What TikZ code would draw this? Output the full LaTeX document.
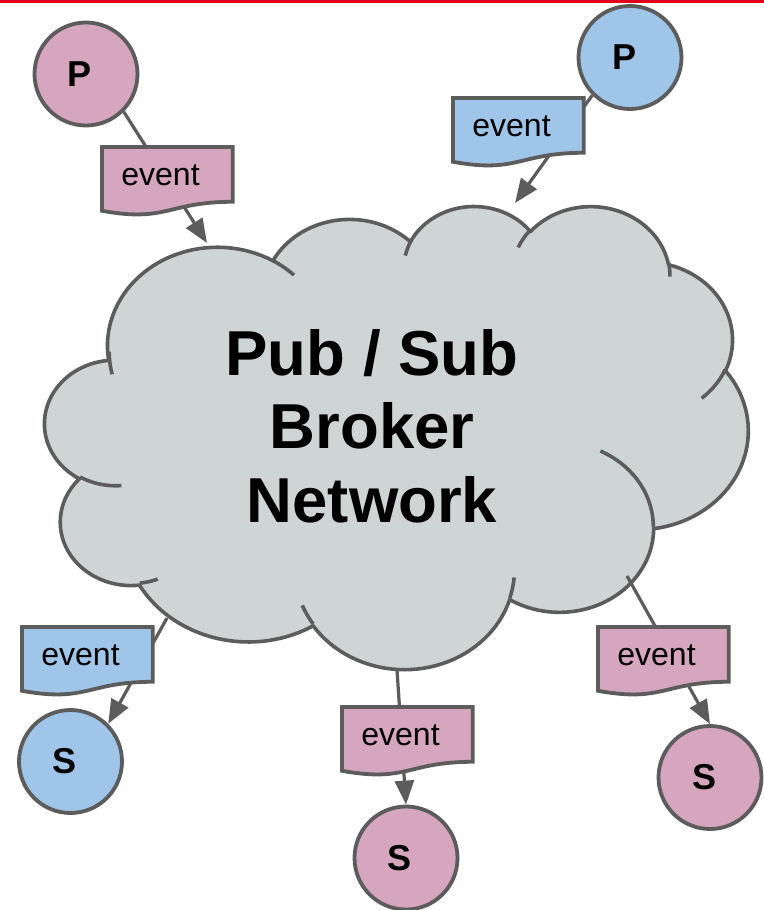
\documentclass[tikz,border=0pt]{standalone}
\usepackage{fontspec}
\setmainfont{Liberation Sans}
\usetikzlibrary{arrows.meta,calc}
\definecolor{pinkfill}{HTML}{D5A6BD}
\definecolor{bluefill}{HTML}{9FC5E8}
\definecolor{cloudfill}{RGB}{207,212,212}
\definecolor{linegray}{RGB}{92,92,92}
\definecolor{topred}{RGB}{226,0,26}
\pgfdeclarelayer{cloudlayer}
\pgfdeclarelayer{linelayer}
\pgfdeclarelayer{boxlayer}
\pgfsetlayers{cloudlayer,linelayer,boxlayer,main}

% elliptical arc in the manner of DrawingML arcTo; #1 macro to store, #2 wR, #3 hR, #4 start (deg), #5 sweep (deg)
\newcommand\cldarc[5]{%
  \pgfmathsetmacro\cldta{atan2((#2)*sin(#4),(#3)*cos(#4))}%
  \pgfmathsetmacro\cldtb{atan2((#2)*sin((#4)+(#5)),(#3)*cos((#4)+(#5)))}%
  \pgfmathsetmacro\cldtb{ifthenelse(\cldtb<\cldta,\cldtb+360,\cldtb)}%
  \pgfmathsetmacro\cldox{\cldx-(#2)*cos(\cldta)}%
  \pgfmathsetmacro\cldoy{\cldy-(#3)*sin(\cldta)}%
  \pgfmathsetmacro\cldx{\cldox+(#2)*cos(\cldtb)}%
  \pgfmathsetmacro\cldy{\cldoy+(#3)*sin(\cldtb)}%
  \xdef#1{plot[domain=\cldta:\cldtb,samples=40] ({\cldox+(#2)*cos(\unexpanded{\x})},{\cldoy+(#3)*sin(\unexpanded{\x})})}%
}
\newcommand\cldstroke[1]{\edef\cldcmd{\noexpand\draw[cloudline] \unexpanded\expandafter{#1};}\cldcmd}
\newcommand\evshape[2]{%
  \path[evline, fill=#2] (#1.north west) -- (#1.north east)
    -- ($(#1.north east)!0.802!(#1.south east)$)
    .. controls ($(#1.north)!0.802!(#1.south)$) and ($(#1.north)!1.1075!(#1.south)$)
    .. ($(#1.north west)!0.934!(#1.south west)$) -- cycle;}

\tikzset{
  party/.style={circle, draw=linegray, line width=1.9pt, minimum size=51.5pt, inner sep=0pt,
    font=\fontsize{18}{21}\selectfont\bfseries},
  evbox/.style={anchor=north west, rectangle, inner xsep=9.5pt, inner ysep=0pt, text width=46pt,
    text height=19pt, text depth=14.75pt, align=left, font=\fontsize{16}{19}\selectfont},
  evline/.style={draw=linegray, line width=1.9pt, line join=miter},
  arr/.style={draw=linegray, line width=1.6pt, -{Triangle[length=12pt,width=9.5pt]}},
  cloudline/.style={draw=linegray, line width=1.8pt, line cap=butt},
  cloudbody/.style={fill=cloudfill, draw=linegray, line width=1.8pt, line join=round},
  titletext/.style={inner sep=0pt, anchor=base, font=\fontsize{31.75}{36.75}\selectfont\bfseries},
}

\begin{document}
\begin{tikzpicture}[x=0.5pt, y=-0.5pt]
\useasboundingbox (0,0) rectangle (764,910);

% publishers and subscribers
\node[party, fill=pinkfill] (p1) at (86,74) {P\hspace*{6pt}};
\node[party, fill=bluefill] (p2) at (630,57.5) {P\hspace*{6pt}};
\node[party, fill=bluefill] (s1) at (70.5,761.5) {S\hspace*{6pt}};
\node[party, fill=pinkfill] (s2) at (406,858) {S\hspace*{6pt}};
\node[party, fill=pinkfill] (s3) at (710,777.5) {S\hspace*{6pt}};

% event documents
\node[evbox] (ev1) at (102,147) {event};
\node[evbox] (ev2) at (453,98) {event};
\node[evbox] (ev3) at (22,627) {event};
\node[evbox] (ev4) at (342,707) {event};
\node[evbox] (ev5) at (598,627) {event};

% broker network label
\node[titletext] (broker) at (372,522) {\begin{tabular}[b]{@{}c@{}}Pub / Sub\\Broker\\Network\end{tabular}};

% connector ends on the cloud
\coordinate (tip1) at (207,243);
\coordinate (tip2) at (515,203);
\coordinate (c3) at (167,618);
\coordinate (c4) at (397,670);
\coordinate (c5) at (627,576);

\fill[topred] (0,0) rectangle (764,2.5);

\begin{pgfonlayer}{cloudlayer}
\fill[white] (0,0) rectangle (764,910);
\begin{scope}[shift={(45,205)}, xscale=0.162731, yscale=0.107176]
  \def\cldx{390}\def\cldy{1437}%
  \cldarc\clda{675.3}{919.0}{-190.4875}{123.7805}%
  \cldarc\cldb{533.3}{726.7}{-144.1024}{89.9452}%
  \cldarc\cldc{436.5}{594.5}{-145.8079}{99.7230}%
  \cldarc\cldd{485.7}{659.5}{-130.9861}{117.2417}%
  \cldarc\clde{533.3}{727.3}{-78.7089}{109.0269}%
  \cldarc\cldf{677.5}{922.0}{-46.2673}{130.2690}%
  \cldarc\cldg{578.5}{786.7}{0.6250}{114.0333}%
  \cldarc\cldh{675.2}{921.5}{22.4516}{115.1726}%
  \cldarc\cldi{772.0}{1054.3}{66.2426}{75.7110}%
  \cldarc\cldj{436.0}{591.8}{-274.9421}{146.7356}%
  \cldarc\cldk{434.5}{594.5}{-246.8285}{152.5189}%
  \edef\cldcmd{\noexpand\path[cloudbody] (390,1437)
    -- \unexpanded\expandafter{\clda} -- \unexpanded\expandafter{\cldb}
    -- \unexpanded\expandafter{\cldc} -- \unexpanded\expandafter{\cldd}
    -- \unexpanded\expandafter{\clde} -- \unexpanded\expandafter{\cldf}
    -- \unexpanded\expandafter{\cldg} -- \unexpanded\expandafter{\cldh}
    -- \unexpanded\expandafter{\cldi} -- \unexpanded\expandafter{\cldj}
    -- \unexpanded\expandafter{\cldk} -- cycle;}%
  \cldcmd
  % inner strokes
  \def\cldx{469.3}\def\cldy{2617.7}\cldarc\cldia{434.5}{594.5}{86.742}{26.4295}\cldstroke\cldia
  \def\cldx{692.8}\def\cldy{3489.9}\cldarc\cldib{436.0}{591.8}{73.6105}{11.4475}\cldstroke\cldib
  \def\cldx{1647.8}\def\cldy{3909.0}\cldarc\cldic{675.2}{921.5}{137.6242}{14.0811}\cldstroke\cldic
  \def\cldx{2882.7}\def\cldy{3475.1}\cldarc\cldid{675.2}{921.5}{6.4533}{15.9984}\cldstroke\cldid
  \def\cldx{3412.9}\def\cldy{2295.4}\cldarc\cldie{578.5}{786.7}{-70.2924}{70.9174}\cldstroke\cldie
  \def\cldx{4179.8}\def\cldy{1535.4}\cldarc\cldif{533.3}{727.3}{30.3180}{27.7515}\cldstroke\cldif
  \def\cldx{3832.4}\def\cldy{542.6}\cldarc\cldig{485.7}{659.5}{-13.7443}{14.8589}\cldstroke\cldig
  \def\cldx{2907.8}\def\cldy{395.2}\cldarc\cldih{485.7}{659.5}{-149.1815}{18.1954}\cldstroke\cldih
  \def\cldx{2214.1}\def\cldy{472.0}\cldarc\cldii{436.5}{594.5}{-163.4943}{17.6864}\cldstroke\cldii
  \def\cldx{1400.0}\def\cldy{519.2}\cldarc\cldij{675.3}{919.0}{-66.7070}{12.3194}\cldstroke\cldij
  \def\cldx{412.7}\def\cldy{1578.9}\cldarc\cldik{675.3}{919.0}{162.0488}{17.6864}\cldstroke\cldik
\end{scope}
\end{pgfonlayer}

\begin{pgfonlayer}{linelayer}
\draw[arr] (p1.south east) -- (tip1);
\draw[arr] (p2.south west) -- (tip2);
\draw[arr] (c3) -- (s1.north east);
\draw[arr] (c4) -- (s2.north);
\draw[arr] (c5) -- (s3.north);
\end{pgfonlayer}

\begin{pgfonlayer}{boxlayer}
\evshape{ev1}{pinkfill}
\evshape{ev2}{bluefill}
\evshape{ev3}{bluefill}
\evshape{ev4}{pinkfill}
\evshape{ev5}{pinkfill}
\end{pgfonlayer}
\end{tikzpicture}
\end{document}
